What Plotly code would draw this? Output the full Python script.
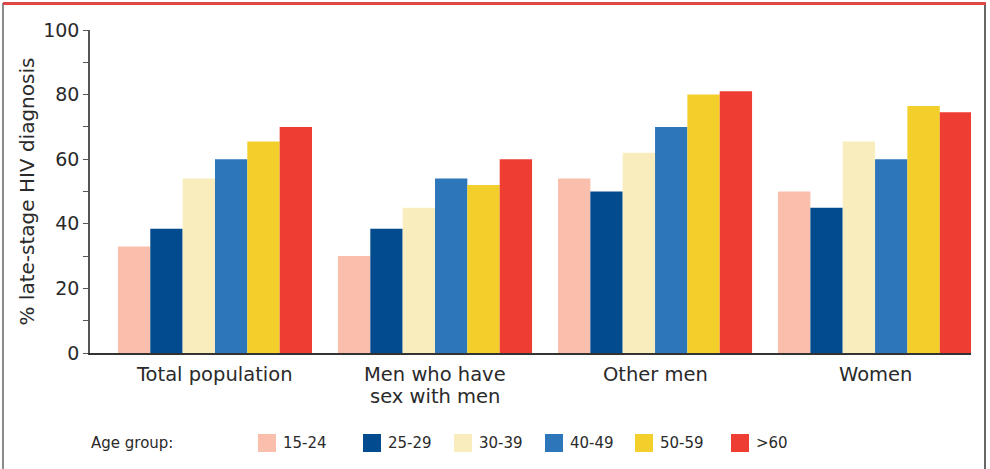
import plotly.graph_objects as go

categories = ["Total population", "Men who have<br>sex with men", "Other men", "Women"]
age_groups = ["15-24", "25-29", "30-39", "40-49", "50-59", ">60"]
v_15_24 = [33, 30, 54, 50]
v_25_29 = [38.5, 38.5, 50, 45]
v_30_39 = [54, 45, 62, 65.5]
v_40_49 = [60, 54, 70, 60]
v_50_59 = [65.5, 52, 80, 76.5]
v_over_60 = [70, 60, 81, 74.5]
series_values = [v_15_24, v_25_29, v_30_39, v_40_49, v_50_59, v_over_60]
colors = ["#F9BEAC", "#024B8E", "#F9EDBE", "#2E76BA", "#F2CF2A", "#EE3E33"]
y_ticks = [0, 20, 40, 60, 80, 100]

W, H = 990, 469
L, R, T, B = 90, 19, 30, 116
PW, PH = W - L - R, H - T - B

def px(xp):
    return (xp - L) / PW

def py(yp):
    return (H - B - yp) / PH

FONT = "DejaVu Sans"
TXT = "#2a2a2a"
fig = go.Figure()
for name, vals, col in zip(age_groups, series_values, colors):
    fig.add_trace(go.Bar(x=categories, y=vals, name=name, marker_color=col,
                         marker_line_width=0, showlegend=False))

fig.update_layout(
    width=W, height=H,
    margin=dict(l=L, r=R, t=T, b=B, pad=0, autoexpand=False),
    paper_bgcolor="white", plot_bgcolor="white",
    barmode="group", bargap=0.118, bargroupgap=0,
    font=dict(family=FONT, color=TXT),
    xaxis=dict(range=[-0.568, 3.436], showline=True, linecolor="#333333", linewidth=2,
               ticks="", showticklabels=False, showgrid=False, fixedrange=True),
    yaxis=dict(range=[0, 100], tickvals=y_ticks, showline=True, linecolor="#555555",
               linewidth=1.5, ticks="outside", ticklen=5, tickcolor="#555555",
               tickfont=dict(size=19, color=TXT), showgrid=False, zeroline=False,
               minor=dict(dtick=10, ticks="outside", ticklen=5, tickcolor="#555555"),
               fixedrange=True),
)

annotations = [
    dict(text="% late-stage HIV diagnosis", xref="paper", yref="paper",
         x=px(26), y=0.5, textangle=-90, showarrow=False,
         font=dict(size=20, color=TXT, family=FONT), xanchor="center", yanchor="middle"),
    dict(text="Age group:", xref="paper", yref="paper", x=px(89), y=py(443),
         showarrow=False, xanchor="left", yanchor="middle",
         font=dict(size=15, color=TXT, family=FONT)),
]
# category labels (one annotation per text line, tighter leading as in the original)
for cat in categories:
    for i, line in enumerate(cat.split("<br>")):
        annotations.append(dict(text=line, x=cat, xref="x", yref="paper",
                                y=py(374 + 22 * i), showarrow=False,
                                xanchor="center", yanchor="middle",
                                font=dict(size=19.5, color=TXT, family=FONT)))

shapes = []
legend_x = [258, 363, 454, 545, 635, 731]
for name, col, lx in zip(age_groups, colors, legend_x):
    shapes.append(dict(type="rect", xref="paper", yref="paper",
                       x0=px(lx), x1=px(lx + 18), y0=py(452), y1=py(434),
                       fillcolor=col, line_width=0))
    annotations.append(dict(text=name, xref="paper", yref="paper", x=px(lx + 23),
                            y=py(443), showarrow=False, xanchor="left", yanchor="middle",
                            font=dict(size=15, color=TXT, family=FONT)))

# frame
shapes.append(dict(type="line", xref="paper", yref="paper", x0=px(3), x1=px(3),
                   y0=py(3), y1=py(469), line=dict(color="#8a8a8a", width=2)))
shapes.append(dict(type="line", xref="paper", yref="paper", x0=px(985), x1=px(985),
                   y0=py(3), y1=py(469), line=dict(color="#666666", width=2)))
shapes.append(dict(type="line", xref="paper", yref="paper", x0=px(3), x1=px(986),
                   y0=py(3.5), y1=py(3.5), line=dict(color="#E04848", width=3)))

fig.update_layout(annotations=annotations, shapes=shapes)
fig.write_html("out.html", config={"displayModeBar": False},
               post_script="document.body.style.margin='0';document.body.style.padding='0';")
